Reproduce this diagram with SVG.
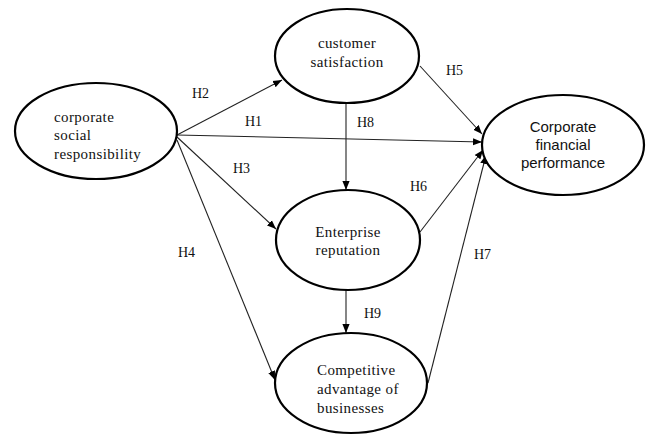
<svg xmlns="http://www.w3.org/2000/svg" width="651" height="435" viewBox="0 0 651 435">
<defs>
<marker id="ah" viewBox="0 0 10 10" refX="10" refY="5" markerWidth="9" markerHeight="9" markerUnits="userSpaceOnUse" orient="auto">
<path d="M0,1 L10,5 L0,9 z" fill="#000"/>
</marker>
<style>
.n{fill:#fff;stroke:#000;stroke-width:2.2}
.c{stroke:#222;stroke-width:1.1;fill:none;marker-end:url(#ah)}
.t{font-family:"Liberation Serif","Times New Roman",serif;font-size:15px;letter-spacing:0.4px;fill:#111}
.s{font-family:"Liberation Sans",Arial,sans-serif;font-size:15px;fill:#111}
.h{font-family:"Liberation Serif","Times New Roman",serif;font-size:14px;fill:#111}
</style>
</defs>
<rect width="651" height="435" fill="#fff"/>
<g id="connectors">
<line class="c" x1="177" y1="135" x2="282" y2="80"/>
<line class="c" x1="177" y1="135" x2="482" y2="142"/>
<line class="c" x1="177" y1="137" x2="276" y2="229"/>
<line class="c" x1="177" y1="140" x2="275" y2="380"/>
<line class="c" x1="346" y1="103" x2="346" y2="190"/>
<line class="c" x1="346" y1="290" x2="346" y2="333"/>
<line class="c" x1="420" y1="66" x2="482" y2="134"/>
<line class="c" x1="420" y1="232" x2="483" y2="150"/>
<line class="c" x1="428" y1="383" x2="486" y2="155"/>
<text class="h" x="192" y="98">H2</text>
<text class="h" x="245" y="126">H1</text>
<text class="h" x="233" y="173">H3</text>
<text class="h" x="178" y="257">H4</text>
<text class="h" x="357" y="127">H8</text>
<text class="h" x="446" y="75">H5</text>
<text class="h" x="410" y="191">H6</text>
<text class="h" x="474" y="259">H7</text>
<text class="h" x="364" y="318">H9</text>
</g>
<g id="csr">
<ellipse class="n" cx="96" cy="131" rx="81" ry="48"/>
<text class="t" x="54" y="122">corporate</text>
<text class="t" x="54" y="140">social</text>
<text class="t" x="54" y="159">responsibility</text>
</g>
<g id="customer">
<ellipse class="n" cx="347" cy="56" rx="72" ry="47"/>
<text class="t" x="347" y="48" text-anchor="middle">customer</text>
<text class="t" x="347" y="67" text-anchor="middle">satisfaction</text>
</g>
<g id="cfp">
<ellipse class="n" cx="563" cy="145" rx="81" ry="50"/>
<text class="s" x="563" y="132" text-anchor="middle">Corporate</text>
<text class="s" x="563" y="150" text-anchor="middle">financial</text>
<text class="s" x="563" y="168" text-anchor="middle">performance</text>
</g>
<g id="reputation">
<ellipse class="n" cx="348" cy="240" rx="72" ry="50"/>
<text class="t" x="348" y="237" text-anchor="middle">Enterprise</text>
<text class="t" x="348" y="255" text-anchor="middle">reputation</text>
</g>
<g id="competitive">
<ellipse class="n" cx="351" cy="383" rx="76" ry="50"/>
<text class="t" x="317" y="375">Competitive</text>
<text class="t" x="317" y="394">advantage of</text>
<text class="t" x="317" y="413">businesses</text>
</g>
</svg>
